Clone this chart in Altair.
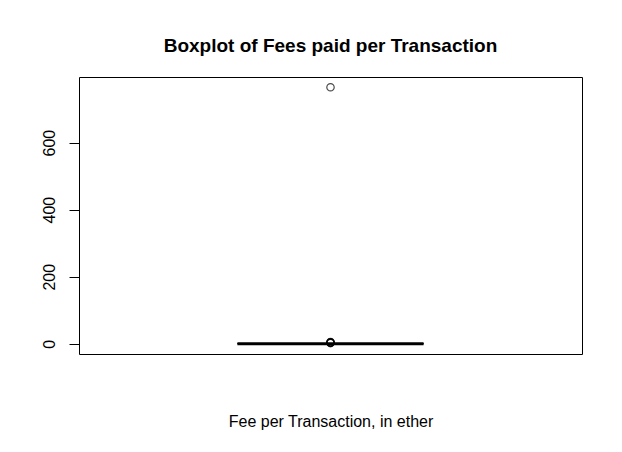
import altair as alt
import pandas as pd

# Box statistics (fee per transaction, in ether)
stat_names = ["lower_whisker", "q1", "median", "q3", "upper_whisker"]
stat_values = [0.0, 0.01, 0.05, 0.3, 0.8]
# Outliers
outlier_values = [765.0, 2.0, 3.0, 3.5, 4.0, 5.0]

box_center = 0.5
box_half = 0.185

stats = dict(zip(stat_names, stat_values))
box_df = pd.DataFrame([{
    "x1": box_center - box_half, "x2": box_center + box_half,
    "q1": stats["q1"], "q3": stats["q3"], "median": stats["median"],
    "lo": stats["lower_whisker"], "hi": stats["upper_whisker"],
    "xc": box_center,
}])
out_df = pd.DataFrame({"x": [box_center] * len(outlier_values), "fee": outlier_values})

ymax = max(outlier_values)
ydom = [-0.04 * ymax, 1.04 * ymax]

xscale = alt.Scale(domain=[0, 1], nice=False, zero=False)
yscale = alt.Scale(domain=ydom, nice=False, zero=False)

xaxis = alt.Axis(labels=False, ticks=False, domain=False, grid=False,
                 title="Fee per Transaction, in ether", titleFont="Liberation Sans",
                 titleFontSize=16, titleFontWeight="normal", titleColor="black",
                 titlePadding=59)
yaxis = alt.Axis(values=[0, 200, 400, 600], grid=False, domain=False, title=None,
                 tickSize=10, tickColor="black", labelAngle=270, labelAlign="center",
                 labelBaseline="bottom", labelPadding=12, labelFont="Liberation Sans",
                 labelFontSize=16, labelColor="black")

box = alt.Chart(box_df).mark_rect(fill="white", stroke="black", strokeWidth=1).encode(
    x=alt.X("x1:Q", scale=xscale, axis=xaxis), x2="x2:Q",
    y=alt.Y("q1:Q", scale=yscale, axis=yaxis), y2="q3:Q",
)
whisk = alt.Chart(box_df).mark_rule(color="black", strokeDash=[4, 3]).encode(
    x=alt.X("xc:Q", scale=xscale, axis=xaxis), y=alt.Y("lo:Q", scale=yscale, axis=yaxis), y2="hi:Q",
)
median = alt.Chart(box_df).mark_rule(color="black", strokeWidth=3).encode(
    x=alt.X("x1:Q", scale=xscale, axis=xaxis), x2="x2:Q",
    y=alt.Y("median:Q", scale=yscale, axis=yaxis),
)
outliers = alt.Chart(out_df).mark_point(shape="circle", filled=False, color="black",
                                        size=55, strokeWidth=1.2).encode(
    x=alt.X("x:Q", scale=xscale, axis=xaxis),
    y=alt.Y("fee:Q", scale=yscale, axis=yaxis),
)

chart = alt.layer(box, whisk, median, outliers).properties(
    width=503, height=277,
    autosize=alt.AutoSizeParams(type="none"),
    padding={"left": 79, "top": 77, "right": 40, "bottom": 98},
    background="white",
    title=alt.TitleParams("Boxplot of Fees paid per Transaction", font="Liberation Sans",
                          fontSize=19, fontWeight="bold", color="black",
                          anchor="middle", offset=21),
).configure_view(stroke="black", strokeWidth=1)

chart.save("out.html", embed_options={"renderer": "svg", "actions": False})
